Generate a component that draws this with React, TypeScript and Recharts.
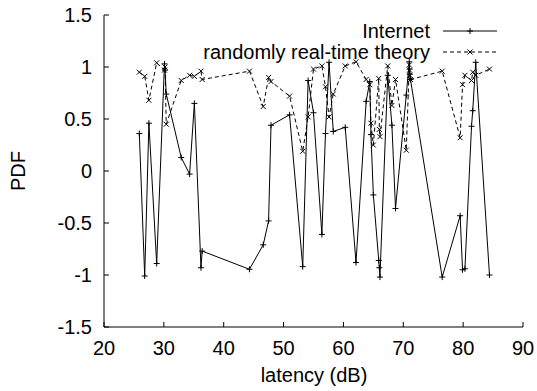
import React from 'react';
import { LineChart, Line, XAxis, YAxis, Legend, Label } from 'recharts';

// latency values (dB) shared by both series
const latency = [
  25.9, 26.8, 27.5, 28.8, 30.1, 30.2, 30.4, 32.9, 34.3, 35.1, 36.2, 36.4, 44.3,
  46.6, 47.5, 47.9, 51.0, 53.2, 54.1, 55.0, 56.4, 57.0, 57.6, 58.3, 60.3, 62.1,
  63.8, 64.4, 64.6, 65.0, 65.9, 66.0, 66.1, 67.4, 68.1, 68.7, 70.5, 71.0, 71.05,
  71.1, 71.2, 76.5, 79.5, 79.9, 80.3, 81.4, 81.6, 82.1, 84.4
];

const internet = [
  0.36, -1.01, 0.46, -0.89, 1.03, 0.97, 0.74, 0.13, -0.03, 0.65, -0.93, -0.77, -0.945,
  -0.71, -0.48, 0.44, 0.54, -0.92, 0.87, 0.56, -0.61, 0.36, 1.045, 0.38, 0.42, -0.88,
  0.67, 0.86, 0.35, -0.23, -0.86, -0.93, -1.02, 0.92, 0.44, -0.36, 0.73, 1.05, 0.98,
  0.93, 0.88, -1.02, -0.43, -0.95, -0.94, 0.43, 0.58, 1.045, -1.0
];

const theory = [
  0.95, 0.91, 0.68, 1.04, 0.97, 1.0, 0.45, 0.87, 0.92, 0.91, 0.96, 0.88, 0.96,
  0.62, 0.9, 0.86, 0.72, 0.19, 0.52, 0.98, 1.01, 0.81, 0.52, 0.74, 1.01, 1.05,
  0.88, 0.83, 0.46, 0.25, 0.89, 0.4, 0.33, 1.01, 0.63, 0.88, 0.2, 1.02, 0.97,
  0.92, 0.88, 0.96, 0.32, 0.83, 0.92, 0.87, 0.95, 0.92, 0.98
];

const xTicks = [20, 30, 40, 50, 60, 70, 80, 90];
const yTicks = [-1.5, -1, -0.5, 0, 0.5, 1, 1.5];

const seriesNames = ['Internet', 'randomly real-time theory'];

const data = latency.map((x, i) => ({ x, internet: internet[i], theory: theory[i] }));

const FONT = '"Liberation Sans", Arial, Helvetica, sans-serif';
const INK = '#000';

const plusPath = (cx: number, cy: number, s = 3) =>
  `M${cx - s},${cy}H${cx + s}M${cx},${cy - s}V${cy + s}`;
const crossPath = (cx: number, cy: number, s = 2.5) =>
  `M${cx - s},${cy - s}L${cx + s},${cy + s}M${cx - s},${cy + s}L${cx + s},${cy - s}`;

const PlusDot = (props: any) => {
  const { cx, cy, index } = props;
  return <path key={`p${index}`} d={plusPath(cx, cy)} stroke={INK} strokeWidth={1} fill="none" />;
};

const CrossDot = (props: any) => {
  const { cx, cy, index } = props;
  return <path key={`c${index}`} d={crossPath(cx, cy)} stroke={INK} strokeWidth={1} fill="none" />;
};

// gnuplot style key in the top right corner of the plot
const renderLegend = () => (
  <svg width={537} height={70} style={{ display: 'block' }}>
    {seriesNames.map((name, i) => {
      const y = 31 + i * 21;
      return (
        <g key={name}>
          <text x={430} y={y} dy="0.36em" textAnchor="end" fontSize={20} fontFamily={FONT} fill={INK}>
            {name}
          </text>
          <line x1={443} x2={497} y1={y} y2={y} stroke={INK} strokeWidth={1}
            strokeDasharray={i === 1 ? '4 3' : undefined} />
          <path d={i === 0 ? plusPath(470, y) : crossPath(470, y)} stroke={INK} fill="none" />
        </g>
      );
    })}
  </svg>
);

export default function App() {
  const tickStyle = { fontSize: 20, fill: INK, fontFamily: FONT };
  return (
    <div style={{ position: 'absolute', left: 0, top: 0, width: 537, height: 391, background: '#fff' }}>
      <LineChart width={537} height={391} data={data} margin={{ top: 15, right: 14, bottom: 0, left: 0 }}>
        <XAxis
          dataKey="x"
          type="number"
          domain={[20, 90]}
          ticks={xTicks}
          allowDataOverflow
          height={64}
          tickSize={-5}
          tickMargin={19}
          tick={tickStyle}
          stroke={INK}
        >
          <Label
            content={() => (
              <text x={314} y={382} textAnchor="middle" fontSize={20} fontFamily={FONT} fill={INK}>
                latency (dB)
              </text>
            )}
          />
        </XAxis>
        <XAxis
          xAxisId="top"
          orientation="top"
          dataKey="x"
          type="number"
          domain={[20, 90]}
          ticks={xTicks}
          allowDataOverflow
          height={0}
          tickSize={-5}
          tick={false}
          stroke={INK}
        />
        <YAxis
          type="number"
          domain={[-1.5, 1.5]}
          ticks={yTicks}
          allowDataOverflow
          width={104}
          tickSize={-5}
          tickMargin={17}
          tick={tickStyle}
          stroke={INK}
        >
          <Label
            content={() => (
              <text x={18} y={171} transform="rotate(-90 18 171)" dy="0.36em" textAnchor="middle"
                fontSize={20} fontFamily={FONT} fill={INK}>
                PDF
              </text>
            )}
          />
        </YAxis>
        <YAxis
          yAxisId="right"
          orientation="right"
          type="number"
          domain={[-1.5, 1.5]}
          ticks={yTicks}
          allowDataOverflow
          width={0}
          tickSize={-5}
          tick={false}
          stroke={INK}
        />
        <Legend
          layout="vertical"
          align="center"
          verticalAlign="middle"
          wrapperStyle={{ position: 'absolute', left: 0, top: 0, width: 537, height: 70 }}
          content={renderLegend}
        />
        <Line
          name={seriesNames[0]}
          dataKey="internet"
          stroke={INK}
          strokeWidth={1}
          dot={PlusDot}
          activeDot={false}
          isAnimationActive={false}
        />
        <Line
          name={seriesNames[1]}
          dataKey="theory"
          stroke={INK}
          strokeWidth={1}
          strokeDasharray="4 3"
          dot={CrossDot}
          activeDot={false}
          isAnimationActive={false}
        />
      </LineChart>
    </div>
  );
}
